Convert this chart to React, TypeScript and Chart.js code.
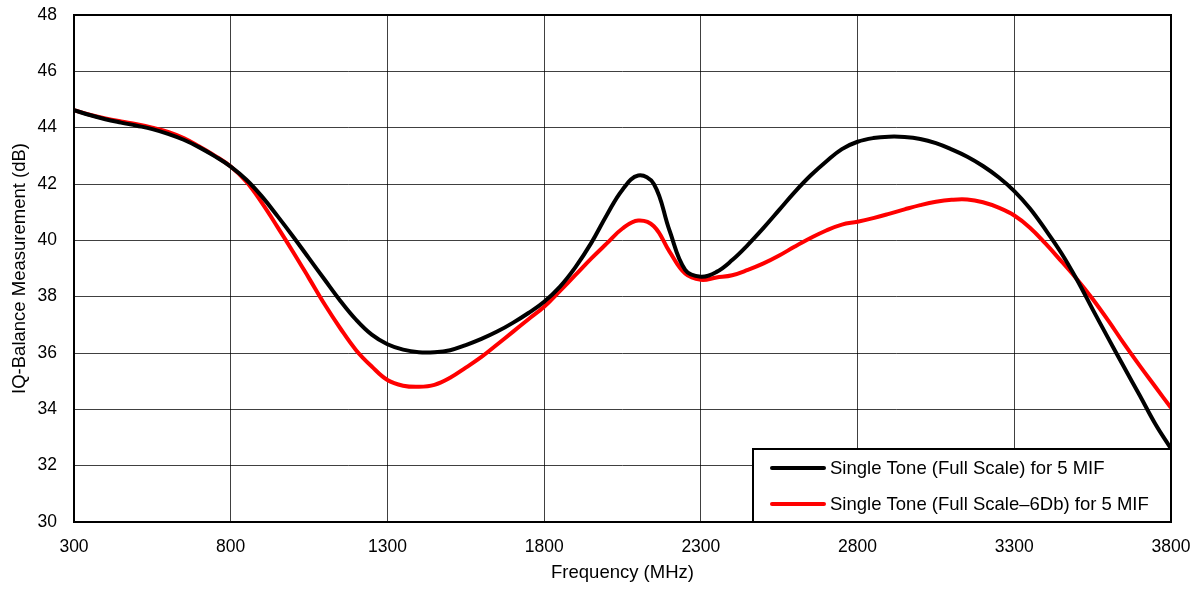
import React, { useEffect, useRef } from "react";
import { Chart, registerables } from "chart.js";

Chart.register(...registerables);

const frequencies = [
  300, 350, 400, 450, 500, 550, 600, 650, 700, 750,
  800, 850, 900, 950, 1000, 1050, 1100, 1150, 1200, 1250,
  1300, 1350, 1400, 1450, 1500, 1550, 1600, 1650, 1700, 1750,
  1800, 1850, 1900, 1950, 2000, 2050, 2100, 2150, 2200, 2250,
  2300, 2350, 2400, 2450, 2500, 2550, 2600, 2650, 2700, 2750,
  2800, 2850, 2900, 2950, 3000, 3050, 3100, 3150, 3200, 3250,
  3300, 3350, 3400, 3450, 3500, 3550, 3600, 3650, 3700, 3750,
  3800,
];

const fullScale = [
  44.62, 44.45, 44.3, 44.18, 44.07, 43.95, 43.78, 43.57, 43.3, 42.98,
  42.62, 42.15, 41.55, 40.85, 40.12, 39.36, 38.6, 37.85, 37.18, 36.65,
  36.31, 36.12, 36.03, 36.03, 36.1, 36.28, 36.5, 36.76, 37.07, 37.42,
  37.82, 38.35, 39.05, 39.9, 40.9, 41.8, 42.3, 42.0, 40.35, 38.95,
  38.71, 38.88, 39.3, 39.84, 40.44, 41.08, 41.72, 42.3, 42.8, 43.24,
  43.5, 43.63, 43.68, 43.67, 43.6, 43.45, 43.23, 42.97, 42.64, 42.24,
  41.75, 41.13, 40.37, 39.55, 38.6, 37.55, 36.52, 35.5, 34.5, 33.48,
  32.6,
];

const fullScaleMinus6 = [
  44.62, 44.46, 44.33, 44.22, 44.12, 44.0, 43.85, 43.63, 43.33, 43.0,
  42.62, 42.08, 41.32, 40.46, 39.57, 38.65, 37.72, 36.87, 36.1, 35.52,
  35.04, 34.84, 34.8, 34.87, 35.12, 35.48, 35.86, 36.3, 36.75, 37.2,
  37.64, 38.2, 38.77, 39.35, 39.89, 40.42, 40.7, 40.5, 39.6, 38.82,
  38.6, 38.68, 38.76, 38.95, 39.18, 39.46, 39.78, 40.08, 40.35, 40.56,
  40.66, 40.79, 40.94, 41.1, 41.25, 41.37, 41.44, 41.45, 41.35, 41.16,
  40.88, 40.45, 39.88, 39.26, 38.62, 37.92, 37.15, 36.33, 35.55, 34.8,
  34.05,
];

const seriesLabels = ["Single Tone (Full Scale) for 5 MIF", "Single Tone (Full Scale\u20136Db) for 5 MIF"];
const seriesColors = ["#000000", "#ff0000"];

const FONT = "Liberation Sans, Arial, sans-serif";

const legendPlugin = {
  id: "boxLegend",
  afterDraw(chart: any) {
    const { ctx, chartArea } = chart;
    const w = 418;
    const h = 73;
    const x0 = chartArea.right - w;
    const y0 = chartArea.bottom - h;
    ctx.save();
    ctx.fillStyle = "#fff";
    ctx.fillRect(x0, y0, w, h);
    ctx.strokeStyle = "#000";
    ctx.lineWidth = 2;
    ctx.strokeRect(x0, y0, w, h);
    ctx.font = `18.5px ${FONT}`;
    ctx.textBaseline = "middle";
    ctx.textAlign = "left";
    seriesLabels.forEach((label, i) => {
      const y = y0 + 19 + i * 36;
      ctx.strokeStyle = seriesColors[i];
      ctx.lineWidth = 4;
      ctx.lineCap = "round";
      ctx.beginPath();
      ctx.moveTo(x0 + 19, y);
      ctx.lineTo(x0 + 71, y);
      ctx.stroke();
      ctx.fillStyle = "#000";
      ctx.fillText(label, x0 + 77, y + 1);
    });
    ctx.restore();
  },
};

const framePlugin = {
  id: "frame",
  afterDatasetsDraw(chart: any) {
    const { ctx, chartArea } = chart;
    ctx.save();
    ctx.strokeStyle = "#000";
    ctx.lineWidth = 2;
    ctx.strokeRect(chartArea.left, chartArea.top, chartArea.right - chartArea.left, chartArea.bottom - chartArea.top);
    ctx.restore();
  },
};

export default function App() {
  const canvasRef = useRef<HTMLCanvasElement | null>(null);

  useEffect(() => {
    if (!canvasRef.current) return;
    const chart = new Chart(canvasRef.current, {
      type: "line",
      data: {
        datasets: [
          {
            label: seriesLabels[0],
            data: frequencies.map((f, i) => ({ x: f, y: fullScale[i] })),
            borderColor: seriesColors[0],
            borderWidth: 4,
            pointRadius: 0,
            tension: 0.4,
            fill: false,
          },
          {
            label: seriesLabels[1],
            data: frequencies.map((f, i) => ({ x: f, y: fullScaleMinus6[i] })),
            borderColor: seriesColors[1],
            borderWidth: 4,
            pointRadius: 0,
            tension: 0.4,
            fill: false,
          },
        ],
      },
      options: {
        animation: false,
        responsive: false,
        maintainAspectRatio: false,
        layout: { padding: { top: 15, right: 33, left: 0, bottom: 0 } },
        plugins: { legend: { display: false }, tooltip: { enabled: false } },
        scales: {
          x: {
            type: "linear",
            min: 300,
            max: 3800,
            ticks: {
              stepSize: 500,
              color: "#000",
              font: { family: FONT, size: 17.5 },
              padding: 15,
              callback: (v: any) => String(v),
            },
            grid: { color: "rgba(0,0,0,0.75)", lineWidth: 1, drawTicks: false },
            border: { display: false },
            title: { display: true, text: "Frequency (MHz)", color: "#000", font: { family: FONT, size: 18.5 }, padding: { top: 0, bottom: 6 } },
            afterFit(scale: any) {
              scale.height = 68;
              scale.paddingLeft = 0;
              scale.paddingRight = 0;
            },
          },
          y: {
            min: 30,
            max: 48,
            ticks: {
              stepSize: 2,
              color: "#000",
              font: { family: FONT, size: 17.5 },
              padding: 17,
              callback: (v: any) => String(v),
            },
            grid: { color: "rgba(0,0,0,0.75)", lineWidth: 1, drawTicks: false },
            border: { display: false },
            title: { display: true, text: "IQ-Balance Measurement (dB)", color: "#000", font: { family: FONT, size: 18.5 }, padding: { top: 9, bottom: 0 } },
            afterFit(scale: any) {
              scale.width = 74;
              scale.paddingTop = 0;
              scale.paddingBottom = 0;
            },
          },
        },
      },
      plugins: [framePlugin, legendPlugin],
    } as any);
    return () => chart.destroy();
  }, []);

  return (
    <div style={{ position: "fixed", left: 0, top: 0, width: 1204, height: 590, background: "#fff" }}>
      <canvas ref={canvasRef} width={1204} height={590} style={{ display: "block" }} />
    </div>
  );
}
